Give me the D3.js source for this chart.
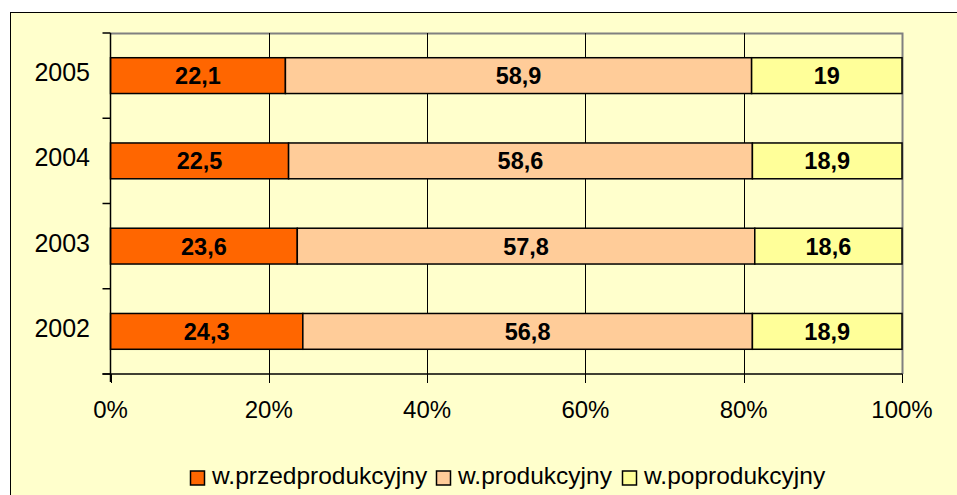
<!DOCTYPE html>
<html>
<head>
<meta charset="utf-8">
<script src="https://cdn.jsdelivr.net/npm/d3@7"></script>
<style>
  html, body { margin: 0; padding: 0; background: #fff; }
  svg { display: block; }
</style>
</head>
<body>
<div id="chart"></div>
<script>
const years = ["2005", "2004", "2003", "2002"];
const seriesNames = ["w.przedprodukcyjny", "w.produkcyjny", "w.poprodukcyjny"];
const przed = [22.1, 22.5, 23.6, 24.3];
const prod = [58.9, 58.6, 57.8, 56.8];
const poprod = [19, 18.9, 18.6, 18.9];
const xTicks = [0, 20, 40, 60, 80, 100];

const W = 957, H = 495;
const FONT = '"Liberation Sans", Arial, sans-serif';
const COLORS = ["#FF6600", "#FFCC99", "#FFFF99"];
const BG = "#FFFFCC";

const rows = years.map((y, i) => ({
  year: y,
  [seriesNames[0]]: przed[i],
  [seriesNames[1]]: prod[i],
  [seriesNames[2]]: poprod[i]
}));

const stacked = d3.stack().keys(seriesNames)(rows);

const plot = { left: 110.5, right: 902, top: 33, bottom: 374 };

const x = d3.scaleLinear().domain([0, 100]).range([plot.left, plot.right]);
const y = d3.scaleBand().domain(years).range([plot.top, plot.bottom]).paddingInner(0.58).paddingOuter(0.29);
const yEdges = d3.scaleBand().domain(years).range([plot.top, plot.bottom]);

const svg = d3.select("#chart").append("svg")
  .attr("width", W).attr("height", H)
  .style("font-family", FONT);

// chart area
svg.append("rect")
  .attr("x", 10.5).attr("y", 12.5)
  .attr("width", W + 10).attr("height", H + 10)
  .attr("fill", BG).attr("stroke", "#000").attr("stroke-width", 1);

// plot frame (gray top and right)
svg.append("path")
  .attr("d", `M${plot.left},${plot.top + 0.5}H${plot.right + 0.5}V${plot.bottom}`)
  .attr("fill", "none").attr("stroke", "#808080").attr("stroke-width", 2);

// gridlines
svg.append("g")
  .selectAll("line")
  .data(xTicks.slice(1, -1))
  .join("line")
  .attr("x1", d => Math.round(x(d)) + 0.5).attr("x2", d => Math.round(x(d)) + 0.5)
  .attr("y1", plot.top).attr("y2", plot.bottom)
  .attr("stroke", "#000").attr("stroke-width", 1);

// bars
const layer = svg.append("g").selectAll("g")
  .data(stacked)
  .join("g")
  .attr("fill", (d, i) => COLORS[i]);

layer.selectAll("rect")
  .data(d => d)
  .join("rect")
  .attr("x", d => x(d[0]))
  .attr("y", d => y(d.data.year))
  .attr("width", d => x(d[1]) - x(d[0]))
  .attr("height", y.bandwidth())
  .attr("stroke", "#000")
  .attr("stroke-width", 1.5);

// value labels
stacked.forEach(s => {
  svg.append("g").selectAll("text")
    .data(s)
    .join("text")
    .attr("x", d => (x(d[0]) + x(d[1])) / 2)
    .attr("y", d => y(d.data.year) + y.bandwidth() / 2 + 8.5)
    .attr("text-anchor", "middle")
    .attr("font-size", 23.5)
    .attr("font-weight", "bold")
    .attr("fill", "#000")
    .text(d => String(d.data[s.key]).replace(".", ","));
});

// y axis
svg.append("line")
  .attr("x1", plot.left).attr("x2", plot.left)
  .attr("y1", plot.top).attr("y2", plot.bottom + 8)
  .attr("stroke", "#000").attr("stroke-width", 1.5);

const yTickPos = years.map(d => yEdges(d)).concat([plot.bottom]);
svg.append("g").selectAll("line")
  .data(yTickPos)
  .join("line")
  .attr("x1", plot.left - 8).attr("x2", plot.left)
  .attr("y1", d => d).attr("y2", d => d)
  .attr("stroke", "#000").attr("stroke-width", 1.5);

svg.append("g").selectAll("text")
  .data(years)
  .join("text")
  .attr("x", 90)
  .attr("y", d => yEdges(d) + yEdges.bandwidth() / 2 + 5.5)
  .attr("text-anchor", "end")
  .attr("font-size", 25)
  .attr("fill", "#000")
  .text(d => d);

// x axis
svg.append("line")
  .attr("x1", plot.left - 8).attr("x2", plot.right + 0.5)
  .attr("y1", plot.bottom).attr("y2", plot.bottom)
  .attr("stroke", "#000").attr("stroke-width", 1.5);

svg.append("g").selectAll("line")
  .data(xTicks)
  .join("line")
  .attr("x1", d => Math.round(x(d)) + 0.5).attr("x2", d => Math.round(x(d)) + 0.5)
  .attr("y1", plot.bottom).attr("y2", plot.bottom + 9)
  .attr("stroke", "#000").attr("stroke-width", 1);

svg.append("g").selectAll("text")
  .data(xTicks)
  .join("text")
  .attr("x", d => x(d))
  .attr("y", 418)
  .attr("text-anchor", "middle")
  .attr("font-size", 24)
  .attr("fill", "#000")
  .text(d => d + "%");

// legend
const legendX = [190, 436, 622];
const leg = svg.append("g").selectAll("g")
  .data(seriesNames)
  .join("g")
  .attr("transform", (d, i) => `translate(${legendX[i]},0)`);

leg.append("rect")
  .attr("x", 0.5).attr("y", 471)
  .attr("width", 14).attr("height", 14)
  .attr("fill", (d, i) => COLORS[i])
  .attr("stroke", "#000").attr("stroke-width", 1.5);

leg.append("text")
  .attr("x", 22).attr("y", 484)
  .attr("font-size", 24.5)
  .attr("fill", "#000")
  .text(d => d);
</script>
</body>
</html>
